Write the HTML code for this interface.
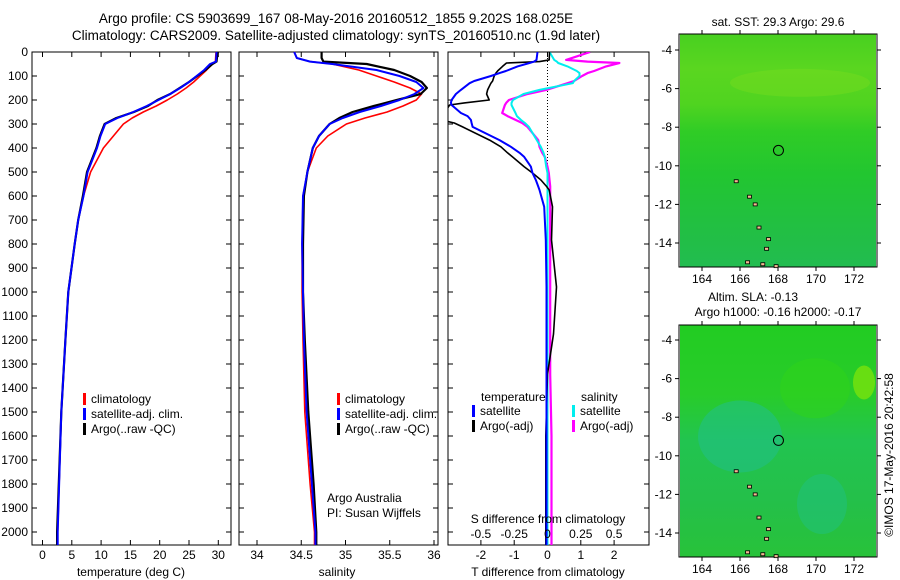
<!DOCTYPE html>
<html><head><meta charset="utf-8">
<style>
body{margin:0;background:#fff;}
svg{display:block;font-family:"Liberation Sans",sans-serif;}
</style></head>
<body>
<svg id="c" width="900" height="580" xmlns="http://www.w3.org/2000/svg"></svg>
<script>
// ---- data ----
const depthT = [0,40,50,75,100,125,150,175,200,225,250,275,300,350,400,500,600,700,800,1000,1200,1500,2000,2054];
const tempClim = [29.6,29.5,29.0,28.0,26.9,25.8,24.5,23.0,21.3,19.4,17.2,15.3,13.8,12.1,10.4,8.2,7.0,6.1,5.5,4.4,3.9,3.2,2.6,2.6];
const tempSat  = [29.7,29.6,28.6,27.6,26.3,25.0,23.5,21.8,19.8,17.8,15.5,12.8,10.7,9.9,9.3,7.7,7.0,6.1,5.5,4.4,3.9,3.2,2.6,2.6];
const tempArgo = [29.9,29.7,29.0,27.8,26.4,25.0,23.4,21.8,19.6,18.0,15.6,12.6,10.6,9.8,9.2,7.6,6.9,6.1,5.5,4.4,3.9,3.2,2.5,2.5];
const depthS = [0,25,40,50,75,100,125,150,175,200,225,250,275,300,350,400,500,600,800,1000,1200,1500,1800,2000,2054];
const salClim = [34.42,34.45,34.6,34.85,35.15,35.35,35.55,35.73,35.86,35.80,35.65,35.47,35.22,35.01,34.80,34.67,34.57,34.52,34.51,34.51,34.52,34.54,34.60,34.65,34.65];
const salSat  = [34.42,34.45,34.6,34.85,35.35,35.61,35.80,35.88,35.78,35.61,35.40,35.16,34.97,34.82,34.70,34.63,34.57,34.52,34.51,34.52,34.53,34.56,34.62,34.66,34.66];
const salArgo = [34.73,34.73,34.75,35.24,35.55,35.73,35.86,35.92,35.85,35.58,35.32,35.08,34.93,34.82,34.70,34.63,34.57,34.53,34.52,34.52,34.54,34.58,34.64,34.67,34.67];
const depthD = [0,33,40,46,60,79,88,100,121,130,158,175,200,212,221,254,267,283,296,312,367,395,420,437,478,504,533,560,575,645,783,979,1175,1342,1600,2054];
const dTsat  = [-0.3,-0.33,-0.4,-0.54,-0.9,-1.25,-1.44,-1.7,-2.2,-2.34,-2.6,-2.75,-2.88,-2.9,-2.88,-2.6,-2.4,-2.3,-2.28,-2.25,-1.44,-1.1,-0.84,-0.7,-0.5,-0.45,-0.35,-0.28,-0.24,-0.1,-0.05,-0.03,-0.03,-0.03,-0.03,-0.03];
const dTargo = [0.06,0.05,-0.24,-1.23,-1.35,-1.5,-1.55,-1.6,-1.65,-1.7,-1.8,-1.83,-1.75,-2.5,-2.94,-3.1,-3.2,-3.2,-2.8,-2.55,-1.74,-1.4,-1.2,-1.05,-0.7,-0.45,-0.2,-0.03,0.05,0.15,0.12,0.27,0.18,0.0,-0.05,-0.05];
const dSsat  = [0.015,0.05,0.07,0.08,0.15,0.22,0.24,0.24,0.2,0.19,-0.06,-0.18,-0.26,-0.27,-0.27,-0.24,-0.23,-0.2,-0.17,-0.14,-0.08,-0.05,-0.03,-0.02,-0.01,0,0,0,0,0,0,0,0,0,0,0];
const dSargo = [0.32,0.14,0.3,0.54,0.44,0.35,0.3,0.26,0.2,0.15,-0.01,-0.15,-0.29,-0.31,-0.32,-0.34,-0.3,-0.24,-0.19,-0.15,-0.07,-0.06,-0.04,-0.02,0.0,0.01,0.015,0.02,0.02,0.02,0.02,0.02,0.02,0.02,0.03,0.03];
const depthTicks = [0,100,200,300,400,500,600,700,800,900,1000,1100,1200,1300,1400,1500,1600,1700,1800,1900,2000];
const tempTicks = [0,5,10,15,20,25,30];
const salTicks = [34,34.5,35,35.5,36];
const dTTicks = [-2,-1,0,1,2];
const dSTicks = [-0.5,-0.25,0,0.25,0.5];
const lonTicks = [164,166,168,170,172];
const latTicks = [-4,-6,-8,-10,-12,-14];
const argoLon = 168.025, argoLat = -9.202;

const NS="http://www.w3.org/2000/svg";
const svg=document.getElementById('c');
function el(tag,attrs,parent){const e=document.createElementNS(NS,tag);for(const k in attrs)e.setAttribute(k,attrs[k]);(parent||svg).appendChild(e);return e;}
function txt(x,y,s,anchor,size,parent){const t=el('text',{x:x,y:y,'text-anchor':anchor||'middle','font-size':size||12,fill:'#000'},parent);t.textContent=s;return t;}
const yD=d=>52+d*0.24;
const xT=v=>42.5+v*5.86;
const xS=v=>257+(v-34)*88.5;
const xDT=v=>547.5+v*33.3;
const xDS=v=>547.5+v*133.2;

function panel(name,x0,x1){
  const g=el('g',{});
  
  
  el('rect',{x:x0,y:52,width:x1-x0,height:493,fill:'#fff',stroke:'#000','stroke-width':1},g);
  depthTicks.forEach(d=>{el('line',{x1:x0,x2:x0+5,y1:yD(d),y2:yD(d),stroke:'#000'},g);el('line',{x1:x1-5,x2:x1,y1:yD(d),y2:yD(d),stroke:'#000'},g);});
  return g;
}
function line(g,xs,ys,fx,color,w,name){
  const pts=xs.map((v,i)=>fx(v).toFixed(1)+','+yD(ys[i]).toFixed(1)).join(' ');
  const p=el('polyline',{points:pts,fill:'none',stroke:color,'stroke-width':w,'stroke-linejoin':'round'},g);
  
  
  return p;
}
function legend(g,x,y,items){
  items.forEach((it,i)=>{
    el('rect',{x:x,y:y+i*15-10,width:3,height:12,fill:it[0]},g);
    const t=txt(x+8,y+i*15,it[1],'start',12,g);
    
    
  });
}
const t1=txt(336,23,'Argo profile: CS 5903699_167 08-May-2016 20160512_1855 9.202S 168.025E','middle',13.5);

const t2=txt(336,40,'Climatology: CARS2009. Satellite-adjusted climatology: synTS_20160510.nc (1.9d later)','middle',13.5);


depthTicks.forEach(d=>{const t=txt(28,yD(d)+4,String(d),'end',12);});

const p1=panel('temperature-panel',32,231);
tempTicks.forEach(v=>{el('line',{x1:xT(v),x2:xT(v),y1:545,y2:540,stroke:'#000'},p1);el('line',{x1:xT(v),x2:xT(v),y1:52,y2:57,stroke:'#000'},p1);txt(xT(v),559,String(v),'middle',12,p1);});
line(p1,tempClim,depthT,xT,'#f00',1.6,'temp-climatology-line');
line(p1,tempArgo,depthT,xT,'#000',2.2,'temp-argo-line');
line(p1,tempSat,depthT,xT,'#00f',2,'temp-satellite-line');
legend(p1,83,403,[['#f00','climatology'],['#00f','satellite-adj. clim.'],['#000','Argo(..raw -QC)']]);
const xl1=txt(131,576,'temperature (deg C)');

const p2=panel('salinity-panel',239,438);
salTicks.forEach(v=>{el('line',{x1:xS(v),x2:xS(v),y1:545,y2:540,stroke:'#000'},p2);el('line',{x1:xS(v),x2:xS(v),y1:52,y2:57,stroke:'#000'},p2);txt(xS(v),559,String(v),'middle',12,p2);});
line(p2,salClim,depthS,xS,'#f00',1.6,'sal-climatology-line');
line(p2,salArgo,depthS,xS,'#000',2.2,'sal-argo-line');
line(p2,salSat,depthS,xS,'#00f',2,'sal-satellite-line');
legend(p2,337,403,[['#f00','climatology'],['#00f','satellite-adj. clim.'],['#000','Argo(..raw -QC)']]);
txt(327,502,'Argo Australia','start',12,p2);
txt(327,517,'PI: Susan Wijffels','start',12,p2);
const xl2=txt(337,576,'salinity');

const p3=panel('difference-panel',448,649);
const cp=el('clipPath',{id:'clip3'},svg);
el('rect',{x:448,y:52,width:201,height:493},cp);
dTTicks.forEach(v=>{el('line',{x1:xDT(v),x2:xDT(v),y1:545,y2:540,stroke:'#000'},p3);el('line',{x1:xDT(v),x2:xDT(v),y1:52,y2:57,stroke:'#000'},p3);txt(xDT(v),559,String(v),'middle',12,p3);});
el('line',{x1:xDT(0),x2:xDT(0),y1:52,y2:545,stroke:'#000','stroke-dasharray':'1,2'},p3);
const g3=el('g',{'clip-path':'url(#clip3)'},p3);
line(g3,dSargo,depthD,xDS,'#f0f',2.2,'sal-diff-argo-line');
line(g3,dSsat,depthD,xDS,'#0ee',2,'sal-diff-satellite-line');
line(g3,dTargo,depthD,xDT,'#000',1.6,'temp-diff-argo-line');
line(g3,dTsat,depthD,xDT,'#00f',2,'temp-diff-satellite-line');
txt(481,401,'temperature','start',12,p3);
txt(581,401,'salinity','start',12,p3);
legend(p3,472,415,[['#00f','satellite'],['#000','Argo(-adj)']]);
legend(p3,572,415,[['#0ee','satellite'],['#f0f','Argo(-adj)']]);
txt(548,523,'S difference from climatology','middle',12,p3);
dSTicks.forEach(v=>{txt(xDS(v),538,String(v),'middle',12,p3);});
const xl3=txt(548,576,'T difference from climatology');

function map(name,y0,y1,lat4y,lat14y,kind){
  const g=el('g',{});
  
  
  const xL=lon=>702+(lon-164)*19;
  const yL=lat=>lat4y+(-4-lat)*(lat14y-lat4y)/10;
  const id='grad-'+name;
  const defs=el('defs',{},g);
  const lg=el('linearGradient',{id:id,x1:0,y1:0,x2:0,y2:1},defs);
  const stops = kind==='sst'
   ? [[0,'#48d020'],[0.15,'#5ad620'],[0.3,'#50d420'],[0.42,'#30cc26'],[0.6,'#22c630'],[0.8,'#22c040'],[1,'#22bc50']]
   : [[0,'#22cc22'],[0.3,'#28cc2a'],[0.5,'#22c450'],[0.75,'#24c04a'],[1,'#28c23a']];
  stops.forEach(s=>el('stop',{offset:s[0],'stop-color':s[1]},lg));
  el('rect',{x:680,y:y0,width:196,height:y1-y0,fill:'url(#'+id+')'},g);
  if(kind==='ssh'){
    el('ellipse',{cx:740,cy:yL(-9),rx:42,ry:36,fill:'#20c08a',opacity:0.55},g);
    el('ellipse',{cx:822,cy:yL(-12.5),rx:25,ry:30,fill:'#20c08a',opacity:0.45},g);
    el('ellipse',{cx:864,cy:yL(-6.2),rx:11,ry:17,fill:'#70e010',opacity:0.9},g);
    el('ellipse',{cx:815,cy:yL(-6.5),rx:35,ry:30,fill:'#30d418',opacity:0.5},g);
  } else {
    el('ellipse',{cx:800,cy:yL(-5.7),rx:70,ry:14,fill:'#80e020',opacity:0.35},g);
  }
  el('rect',{x:679,y:y0,width:198,height:y1-y0,fill:'none',stroke:'#000'},g);
  lonTicks.forEach(v=>{el('line',{x1:xL(v),x2:xL(v),y1:y1,y2:y1+4,stroke:'#000'},g);el('line',{x1:xL(v),x2:xL(v),y1:y0,y2:y0-4,stroke:'#000'},g);txt(xL(v),y1+16,String(v),'middle',12,g);});
  latTicks.forEach(v=>{el('line',{x1:675,x2:679,y1:yL(v),y2:yL(v),stroke:'#000'},g);el('line',{x1:877,x2:881,y1:yL(v),y2:yL(v),stroke:'#000'},g);txt(672,yL(v)+4,String(v),'end',12,g);});
  [[165.8,-10.8],[166.5,-11.6],[166.8,-12.0],[167.5,-13.8],[167.4,-14.3],[166.4,-15.0],[167.2,-15.1],[167.9,-15.2],[167.0,-13.2]].forEach(p=>{
    el('rect',{x:xL(p[0])-2,y:yL(p[1])-1.5,width:4,height:3,fill:'#f4b890',stroke:'#000','stroke-width':0.8},g);
  });
  const c=el('circle',{cx:xL(argoLon),cy:yL(argoLat),r:5,fill:'none',stroke:'#000'},g);
  
  
  return g;
}
map('sst-map',34,267,50,243,'sst');
map('sla-map',325,557,340,533,'ssh');
txt(778,26,'sat. SST: 29.3 Argo: 29.6','middle',12);
txt(753,301,'Altim. SLA: -0.13','middle',12);
txt(778,316,'Argo h1000: -0.16 h2000: -0.17','middle',12);
const cr=txt(0,0,'©IMOS 17-May-2016 20:42:58','middle',12);
cr.setAttribute('transform','translate(893,455) rotate(-90)');


</script>
</body></html>
